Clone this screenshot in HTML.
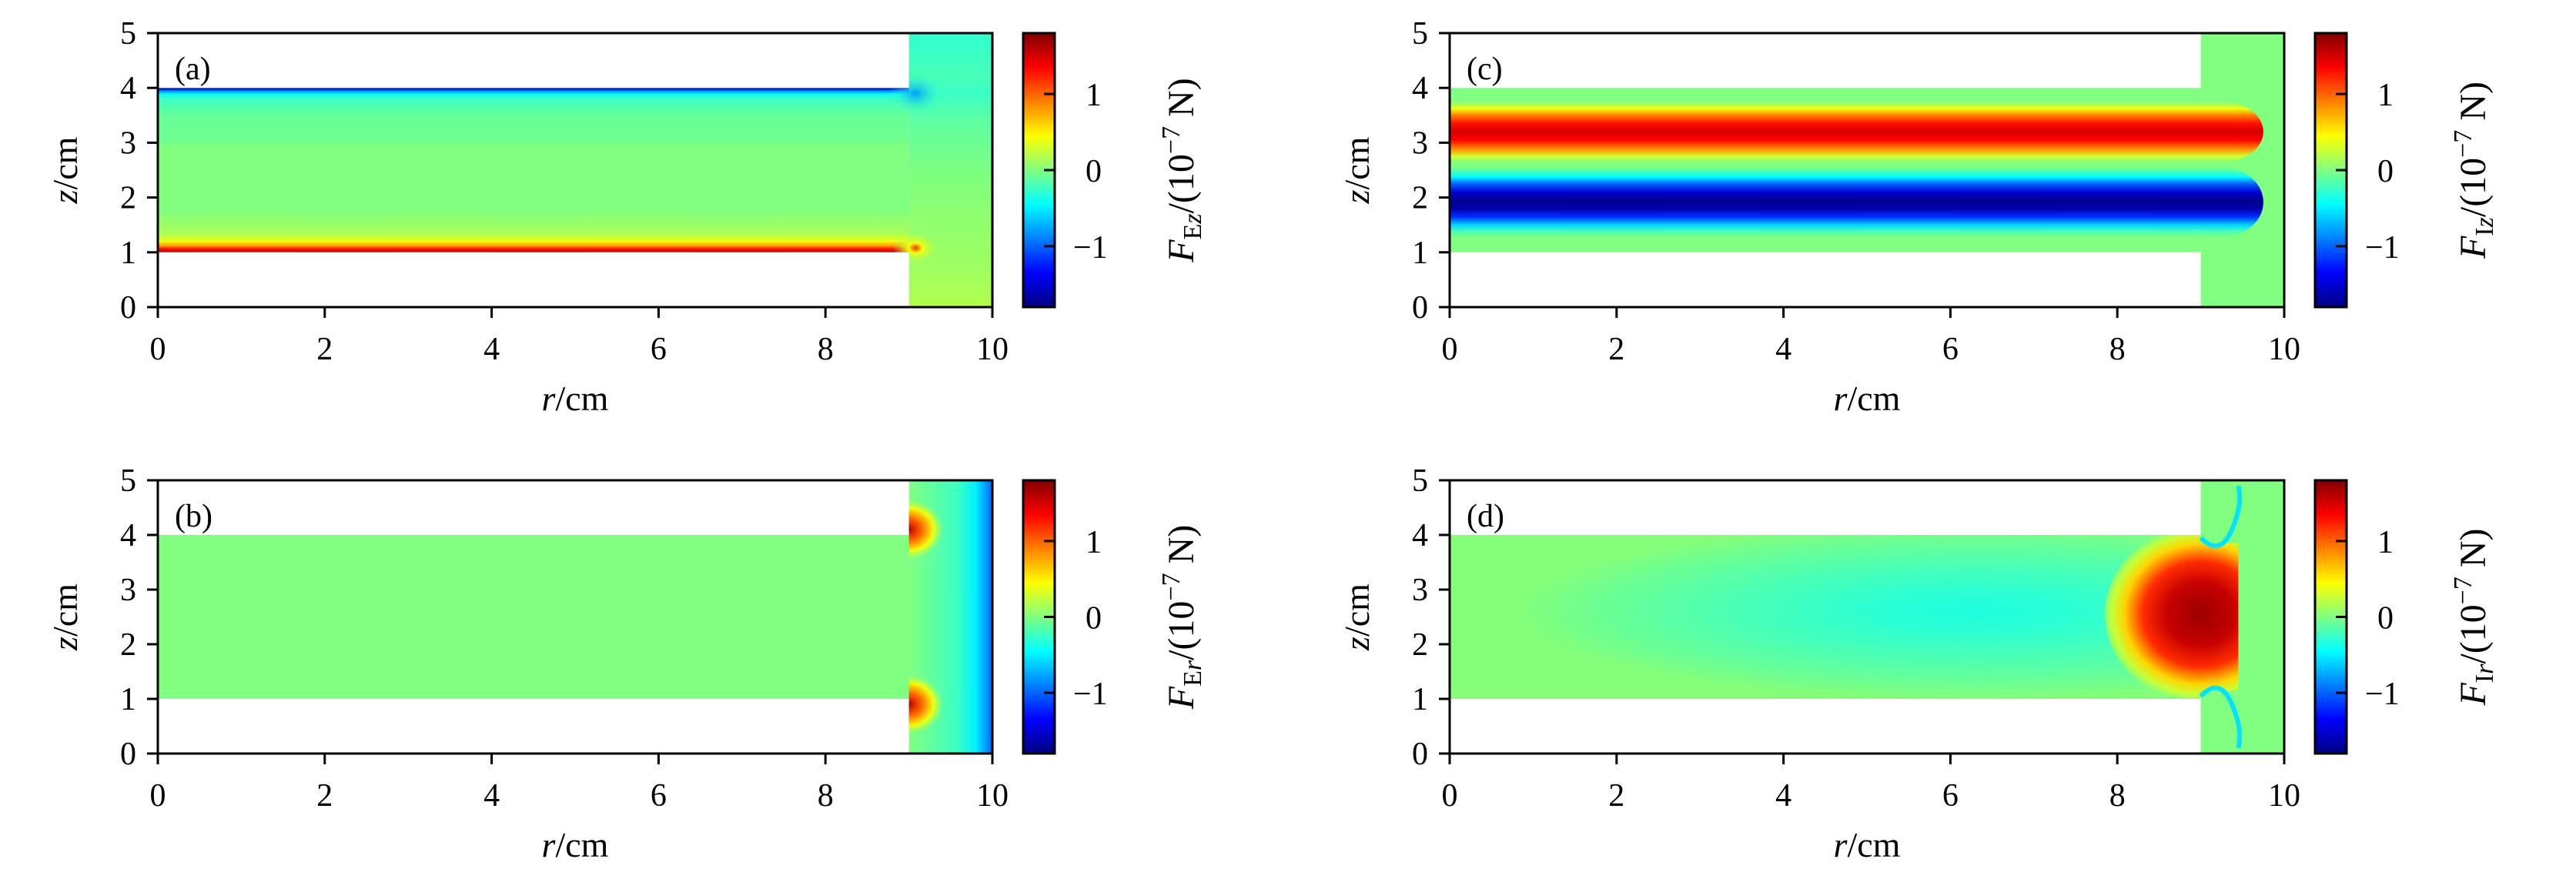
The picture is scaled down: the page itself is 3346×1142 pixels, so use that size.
<!DOCTYPE html>
<html><head><meta charset="utf-8"><style>
html,body{margin:0;padding:0;background:#fff;}
svg{display:block;font-family:"Liberation Serif",serif;}
</style></head><body>
<svg id="fig" xmlns="http://www.w3.org/2000/svg" width="3346" height="1142" viewBox="0 0 3346 1142">
<defs id="defs"></defs>
</svg>
<script>
const rTicks=[0,2,4,6,8,10];
const zTicks=[0,1,2,3,4,5];
const cbTicks=[-1,0,1];
const vMin=-1.8, vMax=1.8;
// panel (a) channel profile (z -> value)
const aZ=[4.0,3.98,3.94,3.88,3.78,3.6,3.5,3.05,2.95,1.8,1.6,1.35,1.2,1.12,1.06,1.0];
const aV=[-1.7,-1.3,-0.8,-0.4,-0.22,-0.14,-0.09,-0.06,0,0,0.06,0.14,0.4,0.8,1.3,1.6];
// panel (a) right column profile
const aColZ=[5,4.2,3.9,3.4,2.6,1.6,0.8,0];
const aColV=[-0.28,-0.2,-0.25,-0.12,-0.02,0.06,0.1,0.18];
// panel (c) red band profile
const cRedZ=[3.75,3.62,3.5,3.35,3.2,3.05,2.9,2.75,2.65];
const cRedV=[0,0.4,0.9,1.3,1.5,1.35,0.9,0.3,0];
// panel (c) blue band profile
const cBlueZ=[2.55,2.38,2.25,2.1,1.95,1.8,1.65,1.5,1.38,1.28];
const cBlueV=[0,-0.45,-1.0,-1.5,-1.75,-1.65,-1.2,-0.6,-0.2,0];
// panel (b) column profile (r -> value)
const bR=[9.0,9.3,9.6,9.8,9.92,10.0];
const bV=[0,-0.12,-0.25,-0.5,-0.8,-1.0];
// panel (d) red region radial profile (offset -> value)
const dOff=[0,0.35,0.6,0.8,0.92,1];
const dV=[1.7,1.55,1.2,0.6,0.25,0.03];

const NS="http://www.w3.org/2000/svg";
const svg=document.getElementById('fig');
const defs=document.getElementById('defs');
function el(tag,attrs,parent){const e=document.createElementNS(NS,tag);for(const k in attrs)e.setAttribute(k,attrs[k]);(parent||svg).appendChild(e);return e;}
function clamp(x){return Math.max(0,Math.min(1,x));}
function jet(v){const t=clamp((v-vMin)/(vMax-vMin));
 const r=clamp(1.5-Math.abs(4*t-3)),g=clamp(1.5-Math.abs(4*t-2)),b=clamp(1.5-Math.abs(4*t-1));
 return 'rgb('+Math.round(r*255)+','+Math.round(g*255)+','+Math.round(b*255)+')';}
let gid=0;
function linGrad(x1,y1,x2,y2,offs,vals){const id='g'+(gid++);
 const g=el('linearGradient',{id:id,gradientUnits:'userSpaceOnUse',x1:x1,y1:y1,x2:x2,y2:y2},defs);
 offs.forEach((o,i)=>el('stop',{offset:o,'stop-color':jet(vals[i])},g));return 'url(#'+id+')';}
function radGrad(offs,vals,endOpacity){const id='g'+(gid++);
 const g=el('radialGradient',{id:id},defs);
 offs.forEach((o,i)=>{const s=el('stop',{offset:o,'stop-color':jet(vals[i])},g);
   if(endOpacity!==undefined&&i===offs.length-1)s.setAttribute('stop-opacity',endOpacity);});return 'url(#'+id+')';}

const FS=42;
function makePanel(P){
 const sx=r=>P.x0+r/10*P.w, sy=z=>P.y0+P.h-z/5*P.h;
 const g=el('g',{});
 
 
 const cid='clip'+P.key;
 const cp=el('clipPath',{id:cid},defs);
 el('rect',{x:sx(0),y:sy(4),width:sx(9)-sx(0),height:sy(1)-sy(4)},cp);
 el('rect',{x:sx(9),y:sy(5),width:sx(10)-sx(9),height:sy(0)-sy(5)},cp);
 const f=el('g',{'clip-path':'url(#'+cid+')'},g);
 
 
 P.draw(f,sx,sy);
 const fr=el('rect',{x:P.x0,y:P.y0,width:P.w,height:P.h,fill:'none',stroke:'#000','stroke-width':3},g);
 
 
 rTicks.forEach(r=>{
  const t=el('line',{x1:sx(r),x2:sx(r),y1:P.y0+P.h,y2:P.y0+P.h+14,stroke:'#000','stroke-width':3},g);
  
  
  const l=el('text',{x:sx(r),y:P.y0+P.h+68,'text-anchor':'middle','font-size':FS},g);l.textContent=r;
  
  });
 zTicks.forEach(z=>{
  const t=el('line',{x1:P.x0-14,x2:P.x0,y1:sy(z),y2:sy(z),stroke:'#000','stroke-width':3},g);
  
  
  const l=el('text',{x:P.x0-28,y:sy(z)+14,'text-anchor':'end','font-size':FS},g);l.textContent=z;
  
  });
 const xt=el('text',{x:P.x0+P.w/2,y:P.y0+P.h+134,'text-anchor':'middle','font-size':46},g);
 xt.innerHTML='<tspan font-style="italic">r</tspan>/cm';
 
 
 const yt=el('text',{x:0,y:0,'text-anchor':'middle','font-size':46,transform:'translate('+(P.x0-105)+','+(P.y0+P.h/2)+') rotate(-90)'},g);
 yt.innerHTML='<tspan font-style="italic">z</tspan>/cm';
 
 
 const pl=el('text',{x:P.x0+22,y:P.y0+60,'font-size':FS},g);pl.textContent='('+P.key+')';
 
 
 const cbx=P.x0+P.w+40, cbw=41;
 const cb=el('g',{},g);
 
 
 const cy=v=>P.y0+P.h-(v-vMin)/(vMax-vMin)*P.h;
 const offs=[],vals=[];for(let i=0;i<=16;i++){offs.push(i/16);vals.push(vMax-(vMax-vMin)*i/16);}
 el('rect',{x:cbx,y:P.y0,width:cbw,height:P.h,fill:linGrad(0,P.y0,0,P.y0+P.h,offs,vals),stroke:'#000','stroke-width':3},cb);
 cbTicks.forEach(v=>{
  const t=el('line',{x1:cbx+cbw-14,x2:cbx+cbw,y1:cy(v),y2:cy(v),stroke:'#000','stroke-width':3},cb);
  
  
  const l=el('text',{x:v<0?cbx+cbw+24:cbx+cbw+40,y:cy(v)+15,'font-size':FS},cb);l.textContent=v<0?'\u2212'+(-v):v;
  
  });
 const ct=el('text',{x:0,y:0,'text-anchor':'middle','font-size':48,transform:'translate('+(cbx+cbw+180)+','+(P.y0+P.h/2)+') rotate(-90)'},cb);
 ct.innerHTML='<tspan font-style="italic">F</tspan><tspan font-size="34" dy="10">'+P.sub+'</tspan><tspan dy="-10">/(10</tspan><tspan font-size="34" dy="-18">\u22127</tspan><tspan dy="18"> N)</tspan>';
 
 
}

function profileGrad(sy,zs,vs){const top=sy(zs[0]),bot=sy(zs[zs.length-1]);
 return linGrad(0,top,0,bot,zs.map(z=>(sy(z)-top)/(bot-top)),vs);}

makePanel({key:'a',x0:205,y0:43,w:1084,h:356,sub:'E<tspan font-style="italic">z</tspan>',draw:(f,sx,sy)=>{
 el('rect',{x:sx(0),y:sy(4),width:sx(9)-sx(0),height:sy(1)-sy(4),fill:profileGrad(sy,aZ,aV)},f);
 el('rect',{x:sx(9),y:sy(5),width:sx(10)-sx(9),height:sy(0)-sy(5),fill:profileGrad(sy,aColZ,aColV)},f);
 el('ellipse',{cx:sx(9.08),cy:sy(3.9),rx:34,ry:26,fill:radGrad([0,1],[-0.8,-0.25],0)},f);
 el('ellipse',{cx:sx(9.08),cy:sy(1.08),rx:30,ry:22,fill:radGrad([0,0.3,1],[1.2,0.4,0.1],0)},f);
}});
makePanel({key:'b',x0:205,y0:624,w:1084,h:355,sub:'E<tspan font-style="italic">r</tspan>',draw:(f,sx,sy)=>{
 el('rect',{x:sx(0),y:sy(4),width:sx(9)-sx(0),height:sy(1)-sy(4),fill:jet(0)},f);
 el('rect',{x:sx(9),y:sy(5),width:sx(10)-sx(9),height:sy(0)-sy(5),fill:linGrad(sx(9),0,sx(10),0,bR.map(r=>(r-9)),bV)},f);
 el('ellipse',{cx:sx(9.0),cy:sy(4.1),rx:46,ry:40,fill:radGrad([0,0.35,0.7,1],[1.6,1.0,0.4,0.05],0)},f);
 el('ellipse',{cx:sx(9.0),cy:sy(0.9),rx:46,ry:40,fill:radGrad([0,0.35,0.7,1],[1.6,1.0,0.4,0.05],0)},f);
 el('rect',{x:sx(8.5),y:sy(4),width:sx(9)-sx(8.5),height:sy(1)-sy(4),fill:jet(0)},f);
}});
makePanel({key:'c',x0:1883,y0:43,w:1084,h:356,sub:'I<tspan font-style="italic">z</tspan>',draw:(f,sx,sy)=>{
 el('rect',{x:sx(0),y:sy(4),width:sx(9)-sx(0),height:sy(1)-sy(4),fill:jet(0)},f);
 el('rect',{x:sx(9),y:sy(5),width:sx(10)-sx(9),height:sy(0)-sy(5),fill:jet(0)},f);
 const rx=sx(0.5)-sx(0);
 el('rect',{x:sx(-1),y:sy(3.75),width:sx(9.75)-sx(-1),height:sy(2.65)-sy(3.75),rx:rx,ry:(sy(2.65)-sy(3.75))/2,fill:profileGrad(sy,cRedZ,cRedV)},f);
 el('rect',{x:sx(-1),y:sy(2.55),width:sx(9.75)-sx(-1),height:sy(1.28)-sy(2.55),rx:rx,ry:(sy(1.28)-sy(2.55))/2,fill:profileGrad(sy,cBlueZ,cBlueV)},f);
}});
makePanel({key:'d',x0:1883,y0:624,w:1084,h:355,sub:'I<tspan font-style="italic">r</tspan>',draw:(f,sx,sy)=>{
 el('rect',{x:sx(0),y:sy(4),width:sx(9)-sx(0),height:sy(1)-sy(4),fill:jet(0.02)},f);
 el('rect',{x:sx(9),y:sy(5),width:sx(10)-sx(9),height:sy(0)-sy(5),fill:jet(0)},f);
 el('ellipse',{cx:sx(6.3),cy:sy(2.6),rx:sx(6.3)-sx(0.8),ry:sy(1.0)-sy(2.6),fill:radGrad([0,0.2,0.5,0.8,1],[-0.34,-0.3,-0.2,-0.08,0.02])},f);
 el('ellipse',{cx:sx(9.0),cy:sy(2.55),rx:sx(9.0)-sx(7.85),ry:sy(0.95)-sy(2.55),fill:radGrad(dOff,dV)},f);
 el('rect',{x:sx(9.45),y:sy(5),width:sx(10)-sx(9.45),height:sy(0)-sy(5),fill:jet(0)},f);
 el('rect',{x:sx(9.0),y:sy(5),width:sx(10)-sx(9.0),height:sy(3.85)-sy(5),fill:jet(0)},f);
 el('rect',{x:sx(9.0),y:sy(1.15),width:sx(10)-sx(9.0),height:sy(0)-sy(1.15),fill:jet(0)},f);
 el('path',{d:'M'+sx(9.0)+' '+sy(3.95)+' Q'+sx(9.25)+' '+sy(3.55)+' '+sx(9.4)+' '+sy(4.2)+' Q'+sx(9.5)+' '+sy(4.6)+' '+sx(9.45)+' '+sy(4.9),fill:'none',stroke:jet(-0.55),'stroke-width':6},f);
 el('path',{d:'M'+sx(9.0)+' '+sy(1.05)+' Q'+sx(9.25)+' '+sy(1.45)+' '+sx(9.4)+' '+sy(0.8)+' Q'+sx(9.5)+' '+sy(0.4)+' '+sx(9.45)+' '+sy(0.1),fill:'none',stroke:jet(-0.55),'stroke-width':6},f);
}});
</script>
</body></html>
